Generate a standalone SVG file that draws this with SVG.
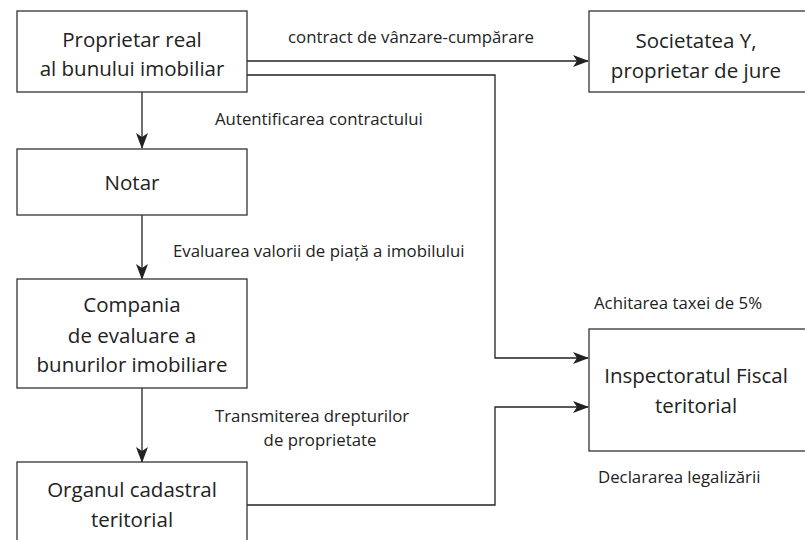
<svg xmlns="http://www.w3.org/2000/svg" width="805" height="540" viewBox="0 0 805 540">
<style>
.box{fill:#fff;stroke:#333;stroke-width:1.3}
.bt{font-family:"Open Sans","Liberation Sans",sans-serif;font-size:20.5px;fill:#222;text-anchor:middle}
.lb{font-family:"Open Sans","Liberation Sans",sans-serif;font-size:16.8px;fill:#222}
.ln{fill:none;stroke:#222;stroke-width:1.3}
</style>
<defs>
<marker id="ah" viewBox="0 0 16 12" refX="15" refY="6" markerWidth="16" markerHeight="12" markerUnits="userSpaceOnUse" orient="auto">
<path d="M0,0 L16,6 L0,12 L4,6 Z" fill="#222"/>
</marker>
</defs>
<rect width="805" height="540" fill="#fff"/>
<g id="connectors">
<line class="ln" x1="247" y1="61" x2="588" y2="61" marker-end="url(#ah)"/>
<polyline class="ln" points="247,75 495,75 495,358 588,358" marker-end="url(#ah)"/>
<line class="ln" x1="142" y1="92" x2="142" y2="148" marker-end="url(#ah)"/>
<line class="ln" x1="142" y1="215" x2="142" y2="279" marker-end="url(#ah)"/>
<line class="ln" x1="142" y1="388" x2="142" y2="462" marker-end="url(#ah)"/>
<polyline class="ln" points="247,505 495,505 495,407 588,407" marker-end="url(#ah)"/>
<text class="lb" x="288" y="43">contract de vânzare-cumpărare</text>
<text class="lb" x="215" y="125">Autentificarea contractului</text>
<text class="lb" x="173" y="257">Evaluarea valorii de piață a imobilului</text>
<text class="lb" x="594" y="309">Achitarea taxei de 5%</text>
<text class="lb" x="215" y="422">Transmiterea drepturilor</text>
<text class="lb" x="320" y="446" text-anchor="middle">de proprietate</text>
<text class="lb" x="598" y="483">Declararea legalizării</text>
</g>
<g id="proprietar">
<rect class="box" x="17" y="11" width="230" height="81"/>
<text class="bt" x="132" y="47">Proprietar real</text>
<text class="bt" x="132" y="76">al bunului imobiliar</text>
</g>
<g id="societatea">
<rect class="box" x="589" y="11" width="230" height="81"/>
<text class="bt" x="696" y="48">Societatea Y,</text>
<text class="bt" x="696" y="78">proprietar de jure</text>
</g>
<g id="notar">
<rect class="box" x="17" y="149" width="230" height="66"/>
<text class="bt" x="132" y="190">Notar</text>
</g>
<g id="compania">
<rect class="box" x="17" y="279" width="230" height="109"/>
<text class="bt" x="132" y="312">Compania</text>
<text class="bt" x="132" y="343">de evaluare a</text>
<text class="bt" x="132" y="372">bunurilor imobiliare</text>
</g>
<g id="organul">
<rect class="box" x="17" y="462" width="230" height="90"/>
<text class="bt" x="132" y="497">Organul cadastral</text>
<text class="bt" x="132" y="527">teritorial</text>
</g>
<g id="inspectoratul">
<rect class="box" x="589" y="329" width="230" height="122"/>
<text class="bt" x="696" y="383">Inspectoratul Fiscal</text>
<text class="bt" x="696" y="413">teritorial</text>
</g>
</svg>
